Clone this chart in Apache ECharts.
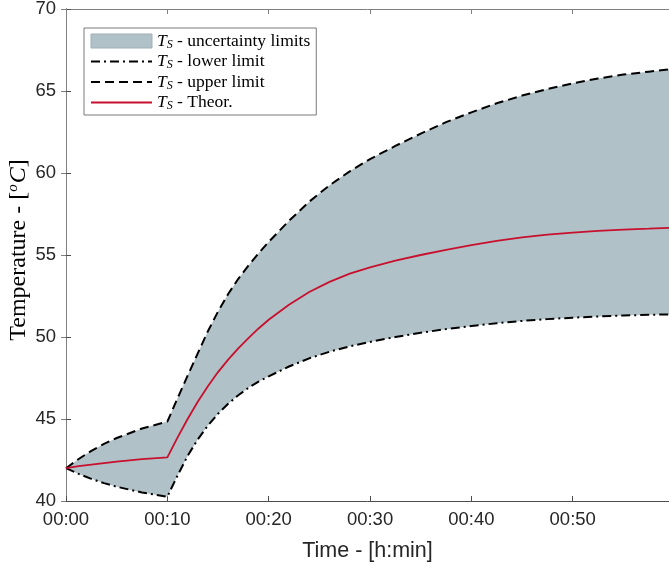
<!DOCTYPE html>
<html>
<head>
<meta charset="utf-8">
<script src="https://cdn.jsdelivr.net/npm/echarts@6/dist/echarts.min.js"></script>
<style>
html,body{margin:0;padding:0;background:#fff;}
#chart{width:669px;height:572px;}
</style>
</head>
<body>
<div id="chart"></div>
<script>
// ---- data (time in minutes, temperatures in °C) ----
const minutes = [0, 1.25, 2.5, 3.75, 5, 7.5, 10, 11, 12, 13, 14, 15, 16, 17, 18, 19, 20, 22, 24, 26, 28, 30, 32.5, 35, 37.5, 40, 42.5, 45, 47.5, 50, 52.5, 55, 57.5, 59.5];
const upperLimit = [42.0, 42.56, 43.06, 43.48, 43.84, 44.42, 44.84, 46.25, 47.64, 49.0, 50.35, 51.55, 52.62, 53.55, 54.35, 55.1, 55.8, 57.08, 58.25, 59.25, 60.1, 60.85, 61.65, 62.4, 63.1, 63.7, 64.25, 64.72, 65.12, 65.47, 65.76, 66.0, 66.18, 66.32];
const lowerLimit = [42.0, 41.65, 41.35, 41.09, 40.87, 40.52, 40.26, 41.55, 42.75, 43.75, 44.6, 45.32, 45.93, 46.45, 46.9, 47.28, 47.6, 48.2, 48.7, 49.1, 49.43, 49.7, 50.0, 50.26, 50.48, 50.67, 50.84, 50.98, 51.09, 51.18, 51.25, 51.31, 51.35, 51.38];
const theoretical = [42.0, 42.12, 42.22, 42.31, 42.4, 42.55, 42.66, 43.86, 45.0, 46.05, 47.0, 47.86, 48.62, 49.3, 49.93, 50.52, 51.05, 51.97, 52.74, 53.36, 53.86, 54.25, 54.65, 55.0, 55.31, 55.6, 55.86, 56.07, 56.24, 56.37, 56.47, 56.55, 56.61, 56.66];
const xTickValues = [0, 10, 20, 30, 40, 50];
const xTickLabels = ['00:00', '00:10', '00:20', '00:30', '00:40', '00:50'];
const legendLabels = ['uncertainty limits', 'lower limit', 'upper limit', 'Theor.'];

const BAND = '#b0c1c7';
const RED = '#c8102e';
const AX = '#262626';

const pair = arr => minutes.map((t, i) => [t, arr[i]]);

const chart = echarts.init(document.getElementById('chart'), null, {renderer: 'canvas'});

const xCommon = {type: 'value', min: 0, max: 59.5, interval: 10, splitLine: {show: false}};
const yCommon = {type: 'value', min: 40, max: 70, interval: 5, splitLine: {show: false}};

chart.setOption({
  animation: false,
  backgroundColor: '#fff',
  grid: {left: 66, right: 0, top: 9, bottom: 71, containLabel: false, outerBoundsMode: 'none'},
  xAxis: [
    Object.assign({}, xCommon, {
      position: 'bottom',
      axisLine: {lineStyle: {color: '#4d4d4d', width: 1}},
      axisTick: {inside: true, length: 5, lineStyle: {color: '#4d4d4d'}},
      axisLabel: {
        margin: 9, color: AX, fontFamily: 'Liberation Sans', fontSize: 18.5,
        showMaxLabel: false,
        formatter: v => { const k = xTickValues.indexOf(v); return k >= 0 ? xTickLabels[k] : ''; }
      },
      name: 'Time - [h:min]', nameLocation: 'middle', nameGap: 39, nameMoveOverlap: false,
      nameTextStyle: {color: AX, fontFamily: 'Liberation Sans', fontSize: 21.5}
    }),
    Object.assign({}, xCommon, {
      position: 'top',
      axisLine: {lineStyle: {color: '#808080', width: 1}},
      axisTick: {inside: true, length: 5, lineStyle: {color: '#808080'}},
      axisLabel: {show: false}
    })
  ],
  yAxis: [
    Object.assign({}, yCommon, {
      position: 'left',
      axisLine: {show: true, lineStyle: {color: '#1a1a1a', width: 1}},
      axisTick: {show: true, inside: true, length: 5, lineStyle: {color: '#4d4d4d'}},
      axisLabel: {margin: 10, color: AX, fontFamily: 'Liberation Sans', fontSize: 18.5},
      name: '{p|}{a|Temperature - [}{s|o}{c|C}{a|]}', nameLocation: 'middle', nameGap: 34, nameRotate: 90,
      nameMoveOverlap: false,
      nameTextStyle: {
        color: '#000', fontFamily: 'Liberation Serif', fontSize: 24,
        rich: {
          p: {width: 10},
          a: {fontFamily: 'Liberation Serif', fontSize: 24, color: '#000'},
          s: {fontFamily: 'Liberation Serif', fontSize: 15, color: '#000', fontStyle: 'italic', padding: [0, 1, 11, 0]},
          c: {fontFamily: 'Liberation Serif', fontSize: 24, color: '#000', fontStyle: 'italic'}
        }
      }
    }),
    Object.assign({}, yCommon, {
      position: 'right',
      axisLine: {show: true, lineStyle: {color: '#808080', width: 1}},
      axisTick: {show: true, inside: true, length: 5, lineStyle: {color: '#808080'}},
      axisLabel: {show: false}
    })
  ],
  legend: {
    orient: 'vertical',
    left: 84, top: 28,
    padding: [4, 6, 3, 6],
    itemGap: 2,
    itemWidth: 61, itemHeight: 14,
    backgroundColor: '#fff',
    borderColor: '#7a7a7a', borderWidth: 1,
    data: [
      {name: legendLabels[0], icon: 'rect', itemStyle: {color: BAND, borderColor: '#9fb0b6', borderWidth: 1, opacity: 1}},
      {name: legendLabels[1], itemStyle: {opacity: 0}},
      {name: legendLabels[2], itemStyle: {opacity: 0}},
      {name: legendLabels[3], itemStyle: {opacity: 0}}
    ],
    formatter: n => '{t|T}{s|S}{b| - ' + n + '}',
    textStyle: {
      color: '#000', fontFamily: 'Liberation Serif', fontSize: 17.5, lineHeight: 17,
      rich: {
        t: {fontFamily: 'Liberation Serif', fontStyle: 'italic', fontSize: 17.5, color: '#000'},
        s: {fontFamily: 'Liberation Serif', fontStyle: 'italic', fontSize: 12, color: '#000', padding: [7, 0, 0, 0]},
        b: {fontFamily: 'Liberation Serif', fontSize: 17.5, color: '#000'}
      }
    }
  },
  series: [
    {
      name: legendLabels[0], type: 'custom',
      data: [[0, 42]],
      encode: {x: 0, y: 1},
      itemStyle: {color: BAND},
      silent: true, z: 1,
      renderItem: (params, api) => {
        if (params.dataIndex !== 0) return null;
        const pts = [];
        for (let i = 0; i < minutes.length; i++) pts.push(api.coord([minutes[i], upperLimit[i]]));
        for (let i = minutes.length - 1; i >= 0; i--) pts.push(api.coord([minutes[i], lowerLimit[i]]));
        return {type: 'polygon', shape: {points: pts}, style: {fill: BAND, stroke: null}};
      }
    },
    {
      name: legendLabels[1], type: 'line', data: pair(lowerLimit), symbol: 'none',
      itemStyle: {color: '#000'},
      lineStyle: {color: '#000', width: 2, type: [9, 4, 2, 4]}, z: 3
    },
    {
      name: legendLabels[2], type: 'line', data: pair(upperLimit), symbol: 'none',
      itemStyle: {color: '#000'},
      lineStyle: {color: '#000', width: 2, type: [9, 5]}, z: 3
    },
    {
      name: legendLabels[3], type: 'line', data: pair(theoretical), symbol: 'none',
      itemStyle: {color: RED},
      lineStyle: {color: RED, width: 1.8}, z: 4
    }
  ]
});
</script>
</body>
</html>
